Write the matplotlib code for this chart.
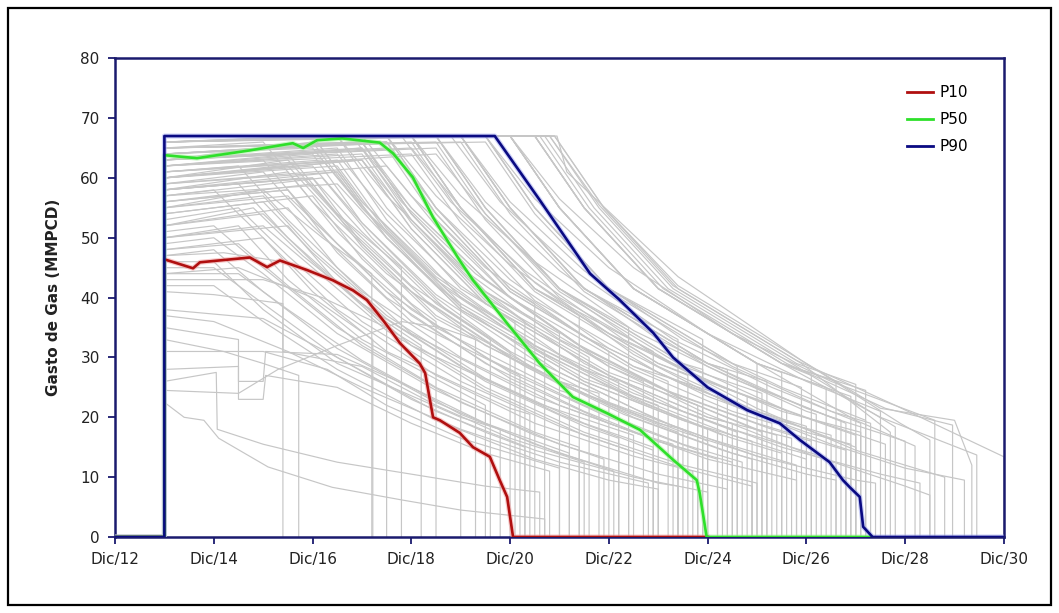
import matplotlib
matplotlib.use("Agg")
import matplotlib.pyplot as plt
from matplotlib.lines import Line2D
from matplotlib.patches import Rectangle

# time axis: years counted from Dic/12
x_ticks = [0, 2, 4, 6, 8, 10, 12, 14, 16, 18]
x_tick_labels = ["Dic/12", "Dic/14", "Dic/16", "Dic/18", "Dic/20",
                 "Dic/22", "Dic/24", "Dic/26", "Dic/28", "Dic/30"]
y_ticks = [0, 10, 20, 30, 40, 50, 60, 70, 80]

# percentile profiles (MMPCD)
p10_t = [0, 1.0, 1.0, 1.58, 1.72, 2.73, 3.08, 3.34, 3.89, 4.41, 4.82, 5.10, 5.43,
         5.77, 6.17, 6.28, 6.44, 6.58, 6.98, 7.25, 7.59, 7.79, 7.94, 8.06, 12.0]
p10_q = [0, 0, 46.4, 44.9, 45.9, 46.7, 45.1, 46.2, 44.6, 42.9, 41.2, 39.6, 36.2,
         32.4, 29.0, 27.4, 20.0, 19.5, 17.4, 15.0, 13.4, 9.5, 6.7, 0, 0]

p50_t = [0, 1.0, 1.0, 1.66, 2.73, 3.6, 3.81, 4.09, 4.6, 5.36, 5.63, 6.03, 6.44,
         6.98, 7.25, 7.94, 8.60, 9.27, 9.96, 10.63, 11.30, 11.78, 11.84, 11.98, 15.3]
p50_q = [0, 0, 63.8, 63.3, 64.6, 65.8, 65.0, 66.3, 66.6, 65.9, 64.1, 60.1, 53.4,
         46.2, 42.9, 35.7, 29.0, 23.4, 20.7, 17.9, 12.9, 9.5, 7.3, 0, 0]

p90_t = [0, 1.0, 1.0, 7.69, 8.6, 9.62, 10.22, 10.9, 11.3, 12.0, 12.8, 13.46,
         13.87, 14.47, 14.74, 14.88, 15.08, 15.15, 15.34, 18.0]
p90_q = [0, 0, 67, 67, 56.3, 44.0, 39.6, 34.1, 30.0, 25.0, 21.2, 19.0,
         16.2, 12.5, 9.5, 8.3, 6.7, 1.7, 0, 0]

# individual realizations, (time, rate) until the well is shut in
gray_low = [
    [(1, 22.5), (1.4, 20), (1.8, 19.5), (2.1, 16.5), (3.1, 11.7), (4.4, 8.3), (5.8, 6.2), (7, 4.5), (8.7, 3)],
    [(1, 26), (2.05, 27.5), (2.07, 18), (3, 15.5), (4.5, 12.5), (6, 10.5), (7.5, 8.5), (8.6, 7.5)],
    [(1, 28), (2.5, 28.5), (2.5, 23), (3.0, 23), (3.05, 27), (4.5, 25), (6, 19), (7.5, 14), (8.8, 11)],
    [(1, 31), (3, 31), (4.3, 28), (5.5, 22), (7, 16.5), (9, 11.5)],
    [(1, 35), (2.5, 33), (2.5, 26), (3, 26), (3.05, 31), (4.5, 30.5), (6, 25), (7.5, 19), (9.2, 14)],
    [(1, 38), (3, 36.5), (4.5, 30), (6, 23), (7.5, 17.5), (8.3, 15)],
    [(1, 41), (2, 40.5), (3.4, 39), (3.4, 31), (5, 28.5), (6.5, 22), (8, 16.5), (9.5, 12.5)],
    [(1, 24.5), (2.5, 24), (3.3, 28), (4.5, 32), (5.8, 36), (6.6, 35), (7.3, 33)],
    [(1, 43), (3, 43), (4.2, 40), (5.5, 35)],
    [(1, 33), (2.2, 31), (3, 29), (3.72, 27)],
]

gray_early = [
    [(1, 47), (2.2, 47.5), (3.4, 46)],
    [(1, 44), (2.5, 45), (4, 40), (5.22, 33)],
    [(1, 55), (3, 58), (4.2, 50), (5.2, 44)],
    [(1, 60), (3.5, 63), (4.5, 54), (5.8, 45)],
    [(1, 52), (2.8, 55), (3.8, 47), (5.3, 37), (6.2, 32)],
    [(1, 58), (3.5, 61), (4.5, 51), (6.0, 39), (6.5, 36)],
    [(1, 63), (4.0, 66), (5.0, 55), (6.5, 42), (7.0, 39)],
    [(1, 50), (2.5, 52), (3.5, 43), (5.0, 33), (7.5, 22)],
    [(1, 46), (2.0, 46), (3.0, 38), (4.5, 29), (7.0, 20), (7.8, 18)],
    [(1, 57), (4.2, 60), (5.2, 50), (6.7, 38), (7.6, 33)],
]

gray_mid = [
    [(1, 62), (4.0, 64), (5, 52.5), (6.5, 40), (8.0, 31)],
    [(1, 66), (4.5, 67), (5.5, 55), (7, 41.5), (8.1, 36)],
    [(1, 56), (3.5, 58), (4.5, 47.5), (6, 36), (8.2, 27)],
    [(1, 64), (5.0, 66), (6, 54), (7.5, 41), (8.3, 36)],
    [(1, 48), (3.0, 50), (4, 41), (5.5, 31), (8, 21.5), (8.4, 20.5)],
    [(1, 67), (5.5, 67), (6.5, 55), (8, 41.5), (8.5, 39)],
    [(1, 60), (4.5, 63), (5.5, 51.5), (7, 39), (8.7, 31)],
    [(1, 65), (5.0, 66), (6, 54), (7.5, 41), (9.0, 34)],
    [(1, 54), (4.0, 57), (5, 46.5), (6.5, 35), (9.0, 24.5), (9.2, 24)],
    [(1, 67), (6.0, 67), (7, 55), (8.5, 41.5), (9.4, 37)],
    [(1, 62), (5.0, 65), (6, 53), (7.5, 40), (9.6, 30)],
    [(1, 58), (4.0, 60), (5, 49), (6.5, 37), (9, 26), (9.8, 24)],
    [(1, 66), (5.5, 67), (6.5, 55), (8, 41.5), (10, 31)],
    [(1, 63), (4.5, 65), (5.5, 53), (7, 40), (9.5, 28), (10.2, 26)],
    [(1, 67), (6.5, 67), (7.5, 55), (9, 41.5), (10.4, 35)],
    [(1, 50), (3.5, 52), (4.5, 42.5), (6, 32), (8.5, 22.5), (10.5, 17)],
    [(1, 65), (5.0, 66), (6, 54), (7.5, 41), (10, 28.5), (10.7, 26)],
    [(1, 67), (6.0, 67), (7, 55), (8.5, 41.5), (10.9, 31)],
    [(1, 60), (4.5, 62), (5.5, 51), (7, 38.5), (9.5, 26.5), (11, 22)],
    [(1, 64), (5.5, 66), (6.5, 54), (8, 41), (10.5, 28.5), (11.2, 26)],
    [(1, 67), (7.0, 67), (8, 55), (9.5, 41.5), (11.4, 33)],
    [(1, 56), (4.0, 59), (5, 48.5), (6.5, 36.5), (9, 25.5), (11, 19), (11.5, 18)],
    [(1, 66), (6.0, 67), (7, 55), (8.5, 41.5), (11, 29), (11.6, 27)],
    [(1, 62), (5.0, 64), (6, 52.5), (7.5, 39.5), (10, 27.5), (11.8, 22)],
    [(1, 67), (6.5, 67), (7.5, 55), (9, 41.5), (11.5, 29), (11.9, 28)],
    [(1, 59), (4.5, 61), (5.5, 50), (7, 38), (9.5, 26), (11.5, 19.5), (12, 18)],
    [(1, 67), (7.5, 67), (8.5, 55), (10, 41.5), (11.9, 33)],
    [(1, 52), (3.5, 55), (4.5, 45), (6, 34), (8.5, 23.5), (10.5, 17.5), (11.3, 15.5)],
]

gray_late = [
    [(1, 64), (5.5, 66), (6.5, 54), (8, 41), (10.5, 28.5), (12.2, 24)],
    [(1, 67), (7.0, 67), (8, 55), (9.5, 41.5), (12, 29), (12.4, 28)],
    [(1, 61), (5.0, 63), (6, 51.5), (7.5, 39), (10, 27), (12, 20), (12.5, 19)],
    [(1, 67), (7.5, 67), (8.5, 55), (10, 41.5), (12.5, 29), (12.6, 28.5)],
    [(1, 66), (6.0, 67), (7, 55), (8.5, 41.5), (11, 29), (12.8, 23.5)],
    [(1, 58), (4.5, 61), (5.5, 50), (7, 38), (9.5, 26), (11.5, 19.5), (12.9, 16)],
    [(1, 67), (8.0, 67), (9, 55), (10.5, 41.5), (13, 29)],
    [(1, 65), (6.5, 66), (7.5, 54), (9, 41), (11.5, 28.5), (13.1, 24)],
    [(1, 67), (7.0, 67), (8, 55), (9.5, 41.5), (12, 29), (13.2, 26)],
    [(1, 63), (5.5, 65), (6.5, 53), (8, 40), (10.5, 28), (12.5, 21), (13.3, 19)],
    [(1, 67), (8.0, 67), (9, 55), (10.5, 41.5), (13, 29), (13.5, 27.5)],
    [(1, 66), (6.5, 67), (7.5, 55), (9, 41.5), (11.5, 29), (13.5, 21.5), (13.6, 21)],
    [(1, 60), (5.0, 63), (6, 51.5), (7.5, 39), (10, 27), (12, 20), (13.7, 16.5)],
    [(1, 67), (7.5, 67), (8.5, 55), (10, 41.5), (12.5, 29), (13.9, 25)],
    [(1, 64), (6.0, 66), (7, 54), (8.5, 41), (11, 28.5), (13, 21), (14, 18.5)],
    [(1, 67), (8.5, 67), (9.5, 55), (11, 41.5), (13.5, 29), (14.1, 27)],
    [(1, 65), (7.0, 66), (8, 54), (9.5, 41), (12, 28.5), (14, 21), (14.2, 20.5)],
    [(1, 67), (8.0, 67), (9, 55), (10.5, 41.5), (13, 29), (14.4, 25)],
    [(1, 62), (6.0, 64), (7, 52.5), (8.5, 39.5), (11, 27.5), (13, 20.5), (14.5, 17)],
    [(1, 67), (8.5, 67), (9.5, 55), (11, 41.5), (13.5, 29), (14.6, 26)],
    [(1, 66), (7.0, 67), (8, 55), (9.5, 41.5), (12, 29), (14, 21.5), (14.7, 19.5)],
    [(1, 67), (8.0, 67), (9, 55), (10.5, 41.5), (13, 29), (14.9, 23.5)],
    [(1, 67), (8.8, 67), (9.8, 55), (11.3, 41.5), (13.8, 29), (15, 25.5)],
    [(1, 63), (6.5, 65), (7.5, 53), (9, 40), (11.5, 28), (13.5, 21), (15.1, 17.5)],
    [(1, 67), (8.5, 67), (9.5, 55), (11, 41.5), (13.5, 29), (15.2, 24.5)],
    [(1, 65), (7.5, 66), (8.5, 54), (10, 41), (12.5, 28.5), (14.5, 21), (15.3, 19)],
]

gray_tail = [
    [(1, 67), (8.9, 67), (9.9, 55), (11.4, 41.5), (13.9, 29), (15.7, 17.5)],
    [(1, 67), (8.7, 67), (9.7, 55), (11.2, 41.5), (13.7, 29), (15.8, 18.4)],
    [(1, 66), (8.0, 67), (9, 55), (10.5, 41.5), (13, 29), (15, 19.5), (16.2, 15.2)],
    [(1, 67), (8.9, 67), (9.9, 55), (11.4, 42), (13.9, 29.5), (15.9, 19), (16.5, 16.2)],
    [(1, 67), (8.6, 67), (9.6, 55), (11.1, 41.5), (13.6, 29), (15.6, 21.5), (16.96, 18.7)],
    [(1, 67), (8.95, 67), (9.15, 61), (11.4, 43.5), (13.9, 29.5), (15.5, 21.5), (17.0, 19.5), (17.35, 12)],
    [(1, 67), (8.5, 67), (9.5, 55), (11, 41.5), (13.5, 29), (15.5, 20), (17.45, 13.7)],
    [(1, 67), (8.8, 67), (9.8, 55.5), (11.3, 42), (13.8, 29.5), (15.8, 22), (18.0, 13.4)],
]

# runs with an earlier decline and a long low-rate tail
gray_decline = [
    [(1, 61), (2.5, 62), (3.5, 53), (5, 41), (7, 30), (9, 22), (11, 16), (12.5, 12.5)],
    [(1, 57), (2, 58), (3, 50), (4.5, 38), (6.5, 27), (8.5, 19), (10.5, 13.5), (11.7, 11)],
    [(1, 65), (3, 66), (4, 56), (5.5, 44), (7.5, 32), (9.5, 24), (11.5, 17.5), (13.2, 13)],
    [(1, 53), (2.5, 55), (3.5, 47), (5, 36), (7, 26), (9, 18.5), (10.4, 14.5)],
    [(1, 67), (4, 67), (5, 56), (6.5, 44), (8.5, 32), (10.5, 24), (12.5, 18), (14.3, 13.5)],
    [(1, 63), (3.5, 64), (4.5, 54), (6, 42), (8, 31), (10, 22.5), (12, 16.5), (13.8, 12)],
    [(1, 59), (3, 61), (4, 52), (5.5, 40), (7.5, 29), (9.5, 21), (11, 16), (12.2, 13)],
    [(1, 49), (2, 50), (3, 44), (4.5, 34), (6.5, 24.5), (8.5, 17), (9.9, 13)],
    [(1, 66), (4.5, 67), (5.5, 57), (7, 45), (9, 33), (11, 25), (13, 19), (14.8, 14.5)],
    [(1, 64), (4, 65), (5, 55), (6.5, 43), (8.5, 31.5), (10.5, 23), (12.5, 16.5), (13.5, 14)],
    [(1, 67), (5, 67), (6, 57), (7.5, 45), (9.5, 33.5), (11.5, 25.5), (13.5, 19.5), (15.0, 15)],
    [(1, 55), (3, 57), (4, 48), (5.5, 37), (7.5, 26.5), (9.5, 19), (10.9, 15)],
    [(1, 62), (3, 63), (4, 53), (5.5, 41), (7.5, 30), (9.5, 22), (11.5, 15.5), (12.7, 12.5)],
    [(1, 67), (5.5, 67), (6.5, 57), (8, 45.5), (10, 34), (12, 26), (14, 20), (15.6, 15.5)],
    [(1, 60), (3.5, 62), (4.5, 53), (6, 41), (8, 30), (10, 22), (11.4, 17.5)],
    [(1, 67), (6, 67), (7, 57), (8.5, 46), (10.5, 34.5), (12.5, 26.5), (14.5, 20), (16.0, 16)],
    [(1, 58), (2.5, 59), (3.5, 50), (5, 39), (7, 28.5), (9, 20.5), (10.9, 14.5)],
    [(1, 66), (4, 67), (5, 56), (6.5, 43.5), (8.5, 32), (10.5, 23.5), (12.5, 17), (14, 13)],
    [(1, 51), (2, 52), (3, 45), (4.5, 35), (6.5, 25), (8.5, 17.5), (9.4, 15)],
    [(1, 67), (6.5, 67), (7.5, 56), (9, 44.5), (11, 33), (13, 25), (14.8, 19)],
    [(1, 64), (5, 66), (6, 55), (7.5, 43), (9.5, 31.5), (11.5, 23), (13, 18), (13.4, 17)],
    [(1, 67), (7, 67), (8, 56), (9.5, 44.5), (11.5, 33), (13.5, 25), (15.2, 19.5)],
    [(1, 62), (4.5, 64), (5.5, 54), (7, 42), (9, 30.5), (11, 22.5), (12.6, 17.5)],
    [(1, 67), (7.5, 67), (8.5, 56.5), (10, 45), (12, 34), (14, 26), (15.5, 21)],
    [(1, 56), (3.5, 58), (4.5, 49), (6, 38), (8, 27.5), (10, 20), (11.8, 14.5)],
    [(1, 65), (5.5, 66), (6.5, 55), (8, 43), (10, 31.5), (12, 23.5), (14, 17.5), (14.9, 15.5)],
    [(1, 67), (8, 67), (9, 56.5), (10.5, 45), (12.5, 34), (14.5, 26), (16.6, 19.5)],
    [(1, 60), (4, 62), (5, 52.5), (6.5, 40.5), (8.5, 29.5), (10.5, 21.5), (12, 16)],
    [(1, 67), (4.8, 67), (5.8, 56), (7.3, 44), (9.3, 32.5), (11.3, 24), (13.3, 18), (14.1, 16)],
    [(1, 54), (3, 56), (4, 47.5), (5.5, 36.5), (7.5, 26), (9.5, 18.5), (10.2, 16.5)],
    [(1, 63), (5, 65), (6, 55), (7.5, 43), (9.5, 31.5), (11.5, 23), (13.1, 17.5)],
    [(1, 67), (6.8, 67), (7.8, 56), (9.3, 44.5), (11.3, 33), (13.3, 25), (15.1, 19)],
    [(1, 47), (2, 48), (3, 41), (4.5, 31.5), (6.5, 22.5), (8.5, 15.5), (10.1, 11)],
    [(1, 58), (3.8, 60), (4.8, 51), (6.3, 39.5), (8.3, 28.5), (10.3, 20.5), (12.3, 14.5), (12.9, 13)],
    [(1, 66), (5.8, 67), (6.8, 56), (8.3, 44.5), (10.3, 33), (12.3, 25), (14.3, 19), (15.0, 17)],
    [(1, 61), (4.2, 63), (5.2, 53.5), (6.7, 41.5), (8.7, 30.5), (10.7, 22.5), (12.3, 17)],
]

# weak runs that keep producing at low rates before shut-in
gray_weak = [
    [(1, 45), (2, 45), (3, 39), (4.5, 30), (6.5, 21), (8.5, 14.5), (10.5, 10), (12, 7.5)],
    [(1, 52), (3, 54), (4, 46), (5.5, 35), (7.5, 25), (9.5, 17.5), (11.5, 12), (13, 9)],
    [(1, 58), (4, 60), (5, 51), (6.5, 39), (8.5, 28), (10.5, 20), (12.5, 14), (14, 10.5), (14.6, 9.5)],
    [(1, 42), (2, 42), (3, 36), (4.5, 28), (6.5, 19.5), (8.5, 13), (10, 9.5), (11, 8)],
    [(1, 60), (5, 63), (6, 53), (7.5, 40.5), (9.5, 29), (11.5, 21), (13.5, 15), (15.5, 10.5), (16.3, 9)],
    [(1, 48), (2.5, 49), (3.5, 42), (5, 32), (7, 22.5), (9, 15.5), (11, 10.5), (12.4, 8)],
    [(1, 55), (3.5, 57), (4.5, 49), (6, 37), (8, 26.5), (10, 19), (12, 13), (13.8, 9.5)],
    [(1, 37), (2, 36), (3.5, 31), (5, 25), (7, 18), (9, 12.5), (10.8, 9)],
    [(1, 63), (6, 65), (7, 55), (8.5, 42.5), (10.5, 30.5), (12.5, 22), (14.5, 15.5), (16.0, 11.5), (17.2, 9.5)],
    [(1, 50), (3, 52), (4, 45), (5.5, 34.5), (7.5, 24.5), (9.5, 17), (11.5, 11.5), (12.9, 8.5)],
    [(1, 57), (4.5, 59), (5.5, 50), (7, 38.5), (9, 27.5), (11, 19.5), (13, 13.5), (15, 9.5), (15.4, 9)],
    [(1, 44), (2.5, 44), (3.5, 38), (5, 29.5), (7, 20.5), (9, 14), (11, 9), (11.4, 8.5)],
    [(1, 59), (5.5, 62), (6.5, 52), (8, 40), (10, 28.5), (12, 20.5), (14, 14), (16, 8.5), (16.5, 7)],
    [(1, 61), (6.5, 64), (7.5, 54), (9, 41.5), (11, 30), (13, 21.5), (15, 14.5), (16.8, 10)],
]

gray_groups = [gray_low, gray_early, gray_mid, gray_late, gray_tail, gray_decline, gray_weak]

fig = plt.figure(figsize=(10.59, 6.13), dpi=100)
ax = fig.add_axes([0.1086, 0.124, 0.8394, 0.781])

# gray cloud of realizations
for group in gray_groups:
    for run in group:
        t = [p[0] for p in run] + [run[-1][0]]
        q = [p[1] for p in run] + [0]
        ax.plot(t, q, color="#c6c6c6", lw=0.85, zorder=2)

navy = "#1a1a6e"
ax.plot(p10_t, p10_q, color="#f2a0a0", lw=3.6, alpha=0.55, zorder=3, solid_joinstyle="round")
ax.plot(p50_t, p50_q, color="#a8f0a0", lw=3.6, alpha=0.55, zorder=3, solid_joinstyle="round")
ax.plot(p90_t, p90_q, color="#a0a8f0", lw=3.6, alpha=0.55, zorder=3, solid_joinstyle="round")
ax.plot(p10_t, p10_q, color="#b00f0f", lw=1.9, zorder=5, label="P10")
ax.plot(p50_t, p50_q, color="#2ee02a", lw=1.9, zorder=5, label="P50")
ax.plot(p90_t, p90_q, color="#0a0a82", lw=1.9, zorder=6, label="P90")

ax.set_xlim(0, 18)
ax.set_ylim(0, 80)
ax.set_xticks(x_ticks)
ax.set_xticklabels(x_tick_labels)
ax.set_yticks(y_ticks)
ax.tick_params(axis="both", direction="out", length=5, width=1.3, color=navy,
               labelsize=11, labelcolor="#222222", pad=6)
for side in ["left", "right", "top", "bottom"]:
    ax.spines[side].set_color(navy)
    ax.spines[side].set_linewidth(1.8)

ax.set_ylabel("Gasto de Gas (MMPCD)", fontsize=11, fontweight="bold",
              color="#222222", labelpad=14)

handles = [Line2D([], [], color="#b00f0f", lw=2),
           Line2D([], [], color="#2ee02a", lw=2),
           Line2D([], [], color="#0a0a82", lw=2)]
ax.legend(handles, ["P10", "P50", "P90"], loc="upper right",
          bbox_to_anchor=(0.975, 0.972), frameon=False, fontsize=11,
          handlelength=1.7, handletextpad=0.4, labelspacing=0.78)

# outer frame around the whole figure
fig.patches.append(Rectangle((0.0076, 0.013), 0.985, 0.974, transform=fig.transFigure,
                             fill=False, edgecolor="black", lw=1.6))

fig.savefig("out.png", dpi=100)
